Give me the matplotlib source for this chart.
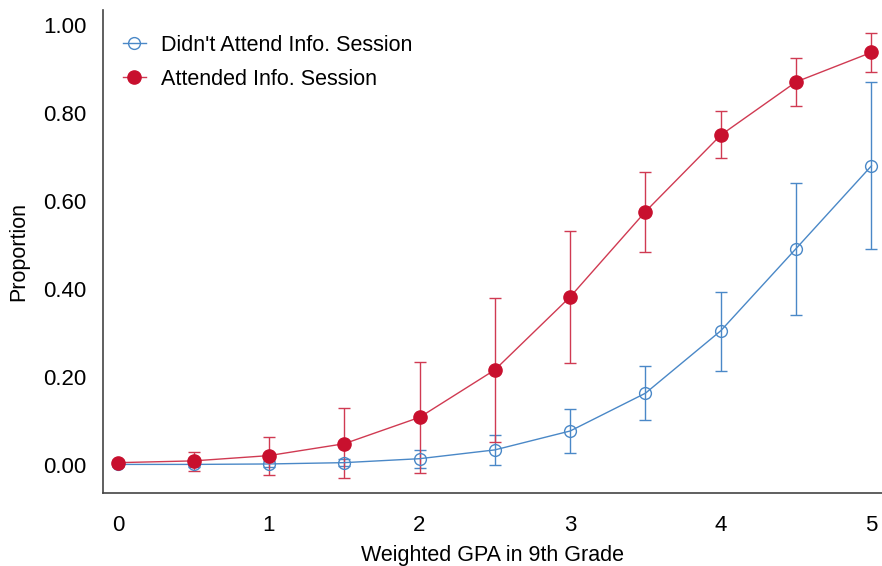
import numpy as np
import matplotlib
matplotlib.use('Agg')
import matplotlib.pyplot as plt
from matplotlib.lines import Line2D

plt.rcParams['font.family'] = ['Liberation Sans', 'DejaVu Sans']

gpa = [0, 0.5, 1, 1.5, 2, 2.5, 3, 3.5, 4, 4.5, 5]

# didn't attend
no_mean = [0.001, 0.001, 0.002, 0.005, 0.014, 0.034, 0.077, 0.163, 0.305, 0.492, 0.680]
no_low = [-0.002, -0.006, -0.004, -0.003, -0.007, 0.000, 0.028, 0.101, 0.214, 0.341, 0.492]
no_high = [0.004, 0.008, 0.008, 0.013, 0.034, 0.068, 0.127, 0.225, 0.394, 0.642, 0.870]

# attended
yes_mean = [0.005, 0.009, 0.021, 0.048, 0.108, 0.216, 0.382, 0.576, 0.750, 0.871, 0.938]
yes_low = [-0.002, -0.015, -0.023, -0.030, -0.018, 0.053, 0.231, 0.485, 0.697, 0.816, 0.894]
yes_high = [0.012, 0.030, 0.064, 0.129, 0.235, 0.380, 0.532, 0.667, 0.805, 0.926, 0.983]

blue = '#4a88c7'
red = '#c8102e'
red_line = '#d03a52'

fig = plt.figure(figsize=(8.82, 5.66), dpi=100)
ax = fig.add_axes([0.117, 0.129, 0.883, 0.853])

no_err = [np.array(no_mean) - np.array(no_low), np.array(no_high) - np.array(no_mean)]
yes_err = [np.array(yes_mean) - np.array(yes_low), np.array(yes_high) - np.array(yes_mean)]

ax.errorbar(gpa, no_mean, yerr=no_err, color=blue, lw=1.0, elinewidth=1.0, capsize=4,
            marker='o', ms=8.5, mfc='none', mec=blue, mew=1.0)
ax.errorbar(gpa, yes_mean, yerr=yes_err, color=red_line, lw=1.0, elinewidth=1.0, capsize=4,
            marker='o', ms=9.5, mfc=red, mec=red)

ax.set_xlim(-0.1, 5.07)
ax.set_ylim(-0.064, 1.034)
ax.set_xticks([0, 1, 2, 3, 4, 5])
ax.set_yticks([0, 0.2, 0.4, 0.6, 0.8, 1.0])
ax.set_yticklabels(['0.00', '0.20', '0.40', '0.60', '0.80', '1.00'])
ax.tick_params(length=0, labelsize=16)
ax.tick_params(axis='y', pad=12)
ax.tick_params(axis='x', pad=16)

for s in ['top', 'right']:
    ax.spines[s].set_visible(False)
for s in ['left', 'bottom']:
    ax.spines[s].set_color('#444444')
    ax.spines[s].set_linewidth(1.2)

ax.set_xlabel('Weighted GPA in 9th Grade', fontsize=15.5, labelpad=6)
ax.set_ylabel('Proportion', fontsize=15.5, labelpad=10)

handles = [
    Line2D([], [], color=blue, lw=1.0, marker='o', ms=8.5, mfc='none', mec=blue),
    Line2D([], [], color=red_line, lw=1.0, marker='o', ms=9.5, mfc=red, mec=red),
]
ax.legend(handles, ["Didn't Attend Info. Session", 'Attended Info. Session'],
          loc='upper left', bbox_to_anchor=(0.0, 0.989), frameon=False, fontsize=15.5,
          handlelength=1.1, handletextpad=0.7, labelspacing=0.6, borderaxespad=0.5)

fig.savefig('out.png', dpi=100)
